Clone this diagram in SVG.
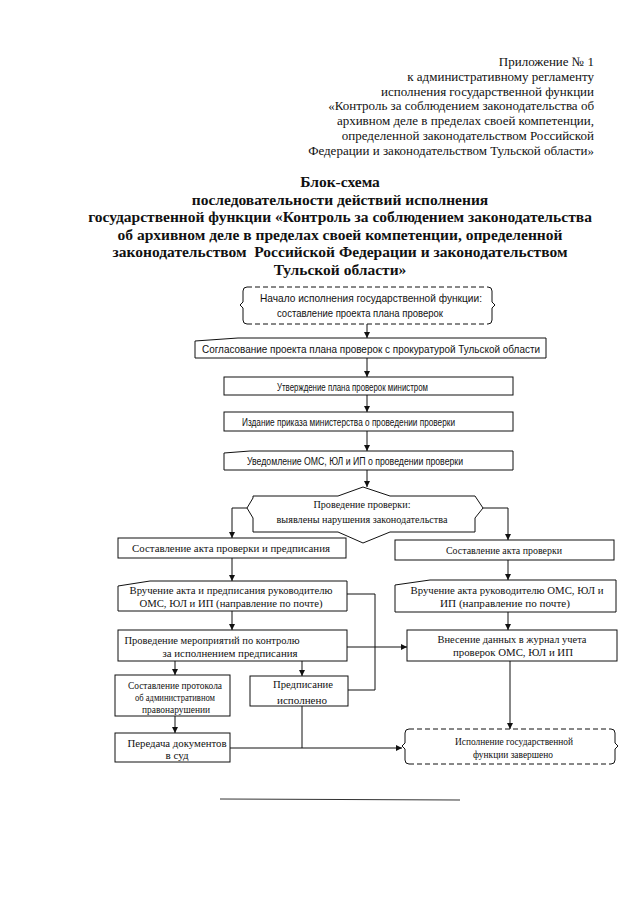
<svg xmlns="http://www.w3.org/2000/svg" width="640" height="905" viewBox="0 0 640 905">
<defs>
<marker id="ah" viewBox="0 0 8 8" refX="8" refY="4" markerWidth="6" markerHeight="6" markerUnits="userSpaceOnUse" orient="auto">
<path d="M0,0 L8,4 L0,8 z" fill="#111"/>
</marker>
<style>
.hdr{font-family:"Liberation Serif","Times New Roman",serif;font-size:13px;fill:#111}
.ttl{font-family:"Liberation Serif","Times New Roman",serif;font-size:15.5px;font-weight:bold;fill:#111;text-anchor:middle}
.sn{font-family:"Liberation Sans",Arial,sans-serif;font-size:11.5px;fill:#111}
.sf{font-family:"Liberation Serif","Times New Roman",serif;font-size:11px;fill:#111;text-anchor:middle}
.box{fill:#fff;stroke:#111;stroke-width:1}
.dash{fill:none;stroke:#111;stroke-width:1;stroke-dasharray:5,3}
.side{fill:none;stroke:#111;stroke-width:1}
.con{fill:none;stroke:#111;stroke-width:1}
.arr{fill:none;stroke:#111;stroke-width:1;marker-end:url(#ah)}
</style>
</defs>
<rect width="640" height="905" fill="#fff"/>

<g id="header" text-anchor="end">
<text class="hdr" x="594" y="66">Приложение № 1</text>
<text class="hdr" x="594" y="81">к административному регламенту</text>
<text class="hdr" x="594" y="96">исполнения государственной функции</text>
<text class="hdr" x="594" y="110">«Контроль за соблюдением законодательства об</text>
<text class="hdr" x="594" y="125">архивном деле в пределах своей компетенции,</text>
<text class="hdr" x="594" y="140">определенной законодательством Российской</text>
<text class="hdr" x="594" y="155">Федерации и законодательством Тульской области»</text>
</g>

<g id="title">
<text class="ttl" x="340" y="187">Блок-схема</text>
<text class="ttl" x="340" y="204.5">последовательности действий исполнения</text>
<text class="ttl" x="340" y="222">государственной функции «Контроль за соблюдением законодательства</text>
<text class="ttl" x="340" y="239.5">об архивном деле в пределах своей компетенции, определенной</text>
<text class="ttl" x="340" y="257" xml:space="preserve">законодательством  Российской Федерации и законодательством</text>
<text class="ttl" x="340" y="274.5">Тульской области»</text>
</g>

<g id="connectors">
<line class="arr" x1="367" y1="324" x2="367" y2="338"/>
<line class="arr" x1="367" y1="358" x2="367" y2="377"/>
<line class="arr" x1="367" y1="395" x2="367" y2="412"/>
<line class="arr" x1="367" y1="431" x2="367" y2="451"/>
<line class="arr" x1="367" y1="470" x2="367" y2="487"/>
<polyline class="arr" points="247,508 232,508 232,538"/>
<polyline class="arr" points="483,508 508,508 508,540"/>
<line class="arr" x1="232" y1="558" x2="232" y2="581"/>
<line class="arr" x1="508" y1="560" x2="508" y2="580"/>
<line class="arr" x1="232" y1="611" x2="232" y2="630"/>
<line class="arr" x1="508" y1="612" x2="508" y2="630"/>
<polyline class="con" points="347,594 375,594 375,690 348,690"/>
<line class="arr" x1="347" y1="647" x2="407" y2="647"/>
<line class="arr" x1="175" y1="661" x2="175" y2="675"/>
<line class="arr" x1="302" y1="661" x2="302" y2="676"/>
<line class="arr" x1="175" y1="716" x2="175" y2="733"/>
<line class="arr" x1="510" y1="661" x2="510" y2="729"/>
<line class="con" x1="302" y1="706" x2="302" y2="748"/>
<line class="arr" x1="230" y1="748" x2="402" y2="748"/>
</g>

<g id="start">
<rect x="243" y="287" width="249" height="37" rx="4" fill="#fff" stroke="none"/>
<path class="dash" d="M247,287 H488 M247,324 H488"/>
<path class="side" d="M247,287 Q243,287 243,291 V302 L240,305 L243,308 V320 Q243,324 247,324"/>
<path class="side" d="M488,287 Q492,287 492,291 V302 L495,305 L492,308 V320 Q492,324 488,324"/>
<text class="sn" x="260" y="302" textLength="222" lengthAdjust="spacingAndGlyphs">Начало исполнения государственной функции:</text>
<text class="sn" x="277" y="317" textLength="166" lengthAdjust="spacingAndGlyphs">составление проекта плана проверок</text>
</g>

<g id="n2">
<polygon class="box" points="195,341 238,338 546,338 546,358 195,358"/>
<text class="sn" x="202" y="352.5" textLength="338" lengthAdjust="spacingAndGlyphs">Согласование проекта плана проверок с прокуратурой Тульской области</text>
</g>

<g id="n3">
<rect class="box" x="224" y="377" width="289" height="18"/>
<text class="sn" x="277" y="390.5" textLength="151" lengthAdjust="spacingAndGlyphs">Утверждение плана проверок министром</text>
</g>

<g id="n4">
<rect class="box" x="224" y="412" width="289" height="19"/>
<text class="sn" x="242" y="426" textLength="213" lengthAdjust="spacingAndGlyphs">Издание приказа министерства о проведении проверки</text>
</g>

<g id="n5">
<polygon class="box" points="224,453 250,451 513,451 513,470 224,470"/>
<text class="sn" x="247" y="465" textLength="216" lengthAdjust="spacingAndGlyphs">Уведомление ОМС, ЮЛ и ИП о проведении проверки</text>
</g>

<g id="decision">
<polygon class="box" points="253,496 338,496 363,487 390,496 475,496 483,508 475,518 475,532 390,532 363,543 338,532 253,532 253,518 247,508 253,498"/>
<text class="sf" x="362" y="508" textLength="97" lengthAdjust="spacingAndGlyphs">Проведение проверки:</text>
<text class="sf" x="362" y="523" textLength="171" lengthAdjust="spacingAndGlyphs">выявлены нарушения законодательства</text>
</g>

<g id="left1">
<rect class="box" x="118" y="538" width="228" height="20"/>
<text class="sf" x="231" y="552" textLength="198" lengthAdjust="spacingAndGlyphs">Составление акта проверки и предписания</text>
</g>

<g id="right1">
<rect class="box" x="395" y="540" width="219" height="20"/>
<text class="sf" x="504" y="554" textLength="116" lengthAdjust="spacingAndGlyphs">Составление акта проверки</text>
</g>

<g id="left2">
<polygon class="box" points="118,586 150,581 347,581 347,611 118,611"/>
<text class="sf" x="231" y="594" textLength="203" lengthAdjust="spacingAndGlyphs">Вручение акта и предписания руководителю</text>
<text class="sf" x="231" y="607" textLength="183" lengthAdjust="spacingAndGlyphs">ОМС, ЮЛ и ИП (направление по почте)</text>
</g>

<g id="right2">
<polygon class="box" points="395,585 430,580 616,580 616,612 395,612"/>
<text class="sf" x="507" y="594" textLength="193" lengthAdjust="spacingAndGlyphs">Вручение акта руководителю ОМС, ЮЛ и</text>
<text class="sf" x="505" y="607" textLength="130" lengthAdjust="spacingAndGlyphs">ИП  (направление по почте)</text>
</g>

<g id="left3">
<rect class="box" x="118" y="630" width="229" height="31"/>
<text class="sf" x="212" y="644" textLength="175" lengthAdjust="spacingAndGlyphs">Проведение мероприятий по контролю</text>
<text class="sf" x="230" y="657" textLength="135" lengthAdjust="spacingAndGlyphs">за исполнением предписания</text>
</g>

<g id="right3">
<rect class="box" x="407" y="630" width="210" height="31"/>
<text class="sf" x="512" y="643" textLength="149" lengthAdjust="spacingAndGlyphs">Внесение данных в журнал учета</text>
<text class="sf" x="513" y="656" textLength="120" lengthAdjust="spacingAndGlyphs">проверок ОМС, ЮЛ и ИП</text>
</g>

<g id="protocol">
<rect class="box" x="115" y="675" width="115" height="41"/>
<text class="sf" x="175" y="689" font-size="10.5" textLength="94" lengthAdjust="spacingAndGlyphs">Составление протокола</text>
<text class="sf" x="175" y="701" font-size="10.5" textLength="80" lengthAdjust="spacingAndGlyphs">об административном</text>
<text class="sf" x="176" y="713" font-size="10.5" textLength="68" lengthAdjust="spacingAndGlyphs">правонарушении</text>
</g>

<g id="done">
<rect class="box" x="250" y="676" width="98" height="30"/>
<text class="sf" x="303" y="688" textLength="60" lengthAdjust="spacingAndGlyphs">Предписание</text>
<text class="sf" x="302" y="704" textLength="50" lengthAdjust="spacingAndGlyphs">исполнено</text>
</g>

<g id="court">
<rect class="box" x="115" y="733" width="115" height="29"/>
<text class="sf" x="177" y="747" textLength="99" lengthAdjust="spacingAndGlyphs">Передача документов</text>
<text class="sf" x="177" y="759">в суд</text>
</g>

<g id="end">
<rect x="405" y="729" width="210" height="35" fill="#fff" stroke="none"/>
<path class="dash" d="M409,729 H611 M409,764 H611"/>
<path class="side" d="M409,729 Q405,729 405,733 V743 L402,746 L405,749 V760 Q405,764 409,764"/>
<path class="side" d="M611,729 Q615,729 615,733 V743 L618,746 L615,749 V760 Q615,764 611,764"/>
<text class="sf" x="514" y="745" textLength="118" lengthAdjust="spacingAndGlyphs">Исполнение государственной</text>
<text class="sf" x="513" y="758" textLength="80" lengthAdjust="spacingAndGlyphs">функции завершено</text>
</g>

<line x1="220" y1="799" x2="460" y2="800" stroke="#333" stroke-width="1"/>
</svg>
